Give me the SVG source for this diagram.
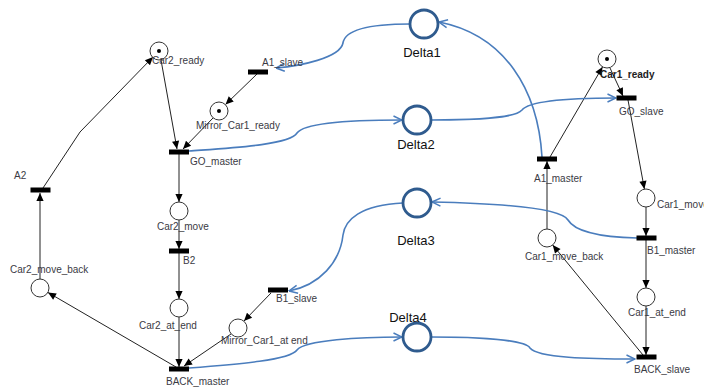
<svg xmlns="http://www.w3.org/2000/svg" width="704" height="387" viewBox="0 0 704 387">
<style>
.pl{fill:#fff;stroke:#333;stroke-width:1}
.tk{fill:#000}
.tr{fill:#000}
.lb{font-family:"Liberation Sans",Arial,sans-serif;font-size:10px;fill:#3a3a44}
.bd{font-weight:bold;fill:#222}
.dl{fill:#fff;stroke:#2f5b8e;stroke-width:2.8}
.dt{font-family:"Liberation Sans",Arial,sans-serif;font-size:13px;fill:#111;text-anchor:middle}
.ar{fill:none;stroke:#222;stroke-width:1;marker-end:url(#ah)}
.bl{fill:none;stroke:#4a7dbd;stroke-width:1.6;marker-end:url(#bh)}
</style>
<defs>
<marker id="ah" viewBox="0 0 10 10" refX="10" refY="5" markerWidth="9" markerHeight="8" orient="auto" markerUnits="userSpaceOnUse"><path d="M0,0.5 L10,5 L0,9.5 z" fill="#000"/></marker>
<marker id="bh" viewBox="0 0 10 10" refX="9.5" refY="5" markerWidth="10" markerHeight="11" orient="auto" markerUnits="userSpaceOnUse"><path d="M1,1 L9.5,5 L1,9" fill="none" stroke="#4a7dbd" stroke-width="1.5"/></marker>
</defs>
<rect width="704" height="387" fill="#fff"/>
<g id="connectors">
<polyline class="ar" points="43,188 80,132 153,57"/>
<line class="ar" x1="161" y1="60" x2="177" y2="149"/>
<line class="ar" x1="213" y1="118" x2="183" y2="149"/>
<line class="ar" x1="179" y1="154" x2="179" y2="202"/>
<line class="ar" x1="179" y1="220" x2="179" y2="249"/>
<line class="ar" x1="179" y1="253" x2="179" y2="299"/>
<line class="ar" x1="179" y1="317" x2="179" y2="367"/>
<line class="ar" x1="176" y1="367" x2="48" y2="292.5"/>
<line class="ar" x1="40" y1="279" x2="40" y2="193"/>
<line class="ar" x1="231" y1="334" x2="184" y2="366"/>
<line class="ar" x1="271" y1="293" x2="244" y2="321"/>
<line class="ar" x1="257" y1="74" x2="225.5" y2="104.5"/>
<line class="ar" x1="550" y1="157" x2="602.5" y2="67"/>
<line class="ar" x1="610" y1="68" x2="623" y2="96"/>
<line class="ar" x1="628" y1="100" x2="644.4" y2="189"/>
<line class="ar" x1="646" y1="207" x2="646" y2="236"/>
<line class="ar" x1="646" y1="240" x2="646" y2="288"/>
<line class="ar" x1="646" y1="306" x2="646" y2="355"/>
<line class="ar" x1="643" y1="355" x2="552.7" y2="245"/>
<line class="ar" x1="547" y1="229" x2="547" y2="161"/>
<path class="bl" d="M542,157 C538,90 505,35 439,22"/>
<path class="bl" d="M410,24 C370,24 345,30 343,43 C340,58 300,66 276,68"/>
<path class="bl" d="M189,151 C230,148 290,145 297,133 C305,122 360,120 402,120"/>
<path class="bl" d="M431,120 C480,120 515,118 522,110 C530,100 580,98 616,98"/>
<path class="bl" d="M637,238 C600,237 575,232 568,220 C560,206 480,203 432,202"/>
<path class="bl" d="M403,203 C360,205 345,220 343,235 C340,262 320,285 289,291"/>
<path class="bl" d="M189,368 C240,364 290,360 297,350 C305,340 360,337 402,337"/>
<path class="bl" d="M431,337 C480,337 525,340 530,348 C538,358 590,359 635,359"/>
</g>
<g id="Car2_ready"><circle class="pl" cx="159" cy="51" r="9"/><circle class="tk" cx="159" cy="51" r="2"/><text class="lb" x="152" y="64">Car2_ready</text></g>
<g id="Mirror_Car1_ready"><circle class="pl" cx="219" cy="111" r="9"/><circle class="tk" cx="219" cy="111" r="2"/><text class="lb" x="196" y="129">Mirror_Car1_ready</text></g>
<g id="GO_master"><rect class="tr" x="169" y="149.5" width="20" height="5"/><text class="lb" x="190" y="165">GO_master</text></g>
<g id="A2"><rect class="tr" x="30.5" y="187.5" width="20" height="5"/><text class="lb" x="14" y="179">A2</text></g>
<g id="Car2_move_back"><circle class="pl" cx="40" cy="288" r="9"/><text class="lb" x="10" y="273">Car2_move_back</text></g>
<g id="Car2_move"><circle class="pl" cx="179" cy="211" r="9"/><text class="lb" x="157" y="230">Car2_move</text></g>
<g id="B2"><rect class="tr" x="169" y="248.5" width="20" height="5"/><text class="lb" x="183" y="264">B2</text></g>
<g id="Car2_at_end"><circle class="pl" cx="179" cy="308" r="9"/><text class="lb" x="139" y="329">Car2_at_end</text></g>
<g id="BACK_master"><rect class="tr" x="169" y="366.5" width="20" height="5"/><text class="lb" x="166" y="385">BACK_master</text></g>
<g id="Mirror_Car1_at_end"><circle class="pl" cx="238" cy="328" r="9"/><text class="lb" x="221" y="344">Mirror_Car1_at end</text></g>
<g id="A1_slave"><rect class="tr" x="248" y="69.5" width="20" height="5"/><text class="lb" x="262" y="66">A1_slave</text></g>
<g id="B1_slave"><rect class="tr" x="268" y="287.5" width="20" height="5"/><text class="lb" x="276" y="302">B1_slave</text></g>
<g id="Delta1"><circle class="dl" cx="424" cy="24" r="14"/><text class="dt" x="422" y="56.5">Delta1</text></g>
<g id="Delta2"><circle class="dl" cx="417" cy="120" r="14"/><text class="dt" x="416" y="148.5">Delta2</text></g>
<g id="Delta3"><circle class="dl" cx="417" cy="203" r="14"/><text class="dt" x="416" y="244.5">Delta3</text></g>
<g id="Delta4"><circle class="dl" cx="417" cy="337" r="14"/><text class="dt" x="408" y="321.5">Delta4</text></g>
<g id="A1_master"><rect class="tr" x="537" y="156.5" width="20" height="5"/><text class="lb" x="534" y="182">A1_master</text></g>
<g id="Car1_ready"><circle class="pl" cx="607" cy="59" r="9"/><circle class="tk" cx="607" cy="59" r="2"/><text class="lb bd" x="600" y="78">Car1_ready</text></g>
<g id="GO_slave"><rect class="tr" x="616.5" y="95.5" width="20" height="5"/><text class="lb" x="619" y="115">GO_slave</text></g>
<g id="Car1_move"><circle class="pl" cx="646" cy="198" r="9"/><text class="lb" x="657" y="208">Car1_move</text></g>
<g id="B1_master"><rect class="tr" x="636.5" y="235.5" width="20" height="5"/><text class="lb" x="647" y="254">B1_master</text></g>
<g id="Car1_move_back"><circle class="pl" cx="547" cy="238" r="9"/><text class="lb" x="525" y="260">Car1_move_back</text></g>
<g id="Car1_at_end"><circle class="pl" cx="646" cy="297" r="9"/><text class="lb" x="628" y="316">Car1_at_end</text></g>
<g id="BACK_slave"><rect class="tr" x="636.5" y="354.5" width="20" height="5"/><text class="lb" x="634" y="373">BACK_slave</text></g>
</svg>
